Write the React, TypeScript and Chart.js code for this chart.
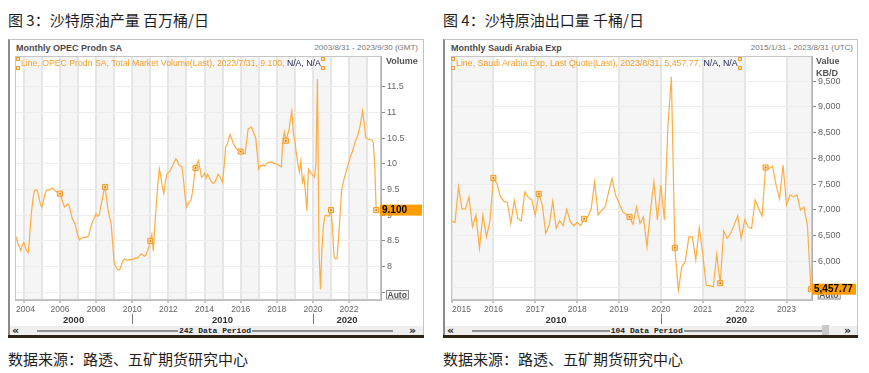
import React, { useEffect, useRef } from "react";
import { Chart, registerables } from "chart.js";

Chart.register(...registerables);

const SANS = '"Liberation Sans", Arial, sans-serif';
const CJK = '"Noto Sans CJK SC", "Noto Sans", sans-serif';
const MONO = '"Liberation Mono", "DejaVu Sans Mono", monospace';

// ---------- Figure 3: Saudi crude production (million b/d), monthly from 2003/8 ----------
const productionStart = [2003, 8];
const productionValues = [
  8.58, 8.45, 8.38, 8.31, 8.42, 8.47, 8.38, 8.30, 8.27, 8.65,
  9.03, 9.30, 9.48, 9.50, 9.48, 9.35, 9.22, 9.16, 9.28, 9.40,
  9.48, 9.50, 9.49, 9.52, 9.53, 9.50, 9.47, 9.45, 9.43, 9.42,
  9.35, 9.24, 9.16, 9.18, 9.22, 9.20, 9.08, 8.95, 8.88, 8.83,
  8.70, 8.60, 8.52, 8.55, 8.57, 8.56, 8.58, 8.57, 8.60, 8.72,
  8.82, 8.90, 8.96, 9.03, 8.98, 9.00, 9.15, 9.30, 9.45, 9.55,
  9.32, 9.10, 8.95, 8.83, 8.45, 8.08, 8.00, 7.95, 7.93, 7.96,
  8.05, 8.12, 8.15, 8.14, 8.12, 8.14, 8.13, 8.15, 8.14, 8.17,
  8.16, 8.18, 8.22, 8.25, 8.23, 8.20, 8.22, 8.30, 8.38, 8.50,
  8.63, 8.30, 8.80, 9.22, 9.60, 9.90, 9.75, 9.55, 9.42, 9.65,
  9.80, 9.83, 9.86, 9.92, 9.98, 10.05, 10.10, 10.05, 9.98, 9.96,
  9.94, 9.70, 9.40, 9.16, 9.22, 9.26, 9.29, 9.45, 9.70, 9.92,
  10.00, 10.07, 9.90, 9.74, 9.76, 9.82, 9.72, 9.80, 9.75, 9.68,
  9.64, 9.62, 9.66, 9.72, 9.80, 9.76, 9.70, 9.64, 9.95, 10.33,
  10.38, 10.48, 10.57, 10.50, 10.40, 10.35, 10.30, 10.28, 10.25, 10.24,
  10.22, 10.20, 10.20, 10.45, 10.68, 10.70, 10.72, 10.65, 10.58, 10.50,
  10.20, 9.90, 9.95, 9.97, 9.98, 9.96, 10.00, 10.02, 10.03, 10.04,
  10.03, 10.01, 10.00, 10.00, 9.98, 9.96, 9.94, 10.45, 10.62, 10.45,
  10.55, 10.65, 10.85, 11.03, 10.60, 10.45, 10.20, 10.00, 9.84, 10.06,
  9.64, 9.75, 9.45, 9.09, 9.90, 9.85, 9.80, 9.78, 9.74, 10.00,
  11.65, 8.35, 7.56, 8.35, 8.80, 8.99, 9.00, 8.98, 9.00, 9.10,
  8.75, 8.18, 8.15, 8.16, 8.55, 9.00, 9.48, 9.62, 9.74, 9.84,
  9.95, 10.05, 10.15, 10.22, 10.32, 10.42, 10.50, 10.58, 10.70, 10.85,
  11.03, 10.80, 10.52, 10.49, 10.48, 10.47, 10.47, 10.43, 10.00, 9.10,
];
const productionYTicks = [7.5, 8, 8.5, 9, 9.5, 10, 10.5, 11, 11.5];
const productionGridYears = [2004, 2005, 2006, 2007, 2008, 2009, 2010, 2011, 2012, 2013, 2014, 2015, 2016, 2017, 2018, 2019, 2020, 2021, 2022, 2023];
const productionLabelYears = [2004, 2006, 2008, 2010, 2012, 2014, 2016, 2018, 2020, 2022];
const productionDecades = [2000, 2010, 2020];

// ---------- Figure 4: Saudi crude exports (kb/d), monthly from 2015/1 ----------
const exportStart = [2015, 1];
const exportValues = [
  6785, 6756, 7444, 7017, 7017, 7250, 6669, 6901, 6252, 6901,
  6475, 6775, 7618, 7511, 7260, 7163, 7143, 6737, 7182, 6833,
  6785, 7347, 7240, 7192, 6901, 7308, 7095, 6543, 6707, 7163,
  6640, 6785, 6690, 7008, 6775, 6690, 6756, 6690, 6824, 6862,
  7008, 7540, 6901, 6988, 7056, 7337, 7608, 7289, 7134, 6969,
  6911, 6862, 6717, 7056, 6737, 6862, 6281, 6969, 7540, 6804,
  7482, 6804, 8616, 9584, 6262, 5439, 5894, 6000, 6475, 6475,
  6029, 6649, 6126, 5535, 5526, 5506, 6136, 5574, 6591, 6446,
  6543, 6707, 6882, 6446, 6804, 6669, 6640, 7192, 7027, 6882,
  7821, 7802, 7841, 7482, 7211, 7870, 7095, 7289, 7250, 7289,
  6998, 7056, 6678, 5457.77,
];
const exportYTicks = [5500, 6000, 6500, 7000, 7500, 8000, 8500, 9000, 9500];
const exportGridYears = [2015, 2016, 2017, 2018, 2019, 2020, 2021, 2022, 2023];
const exportLabelYears = [2015, 2016, 2017, 2018, 2019, 2020, 2021, 2022, 2023];
const exportDecades = [2010, 2020];

type PanelCfg = {
  ox: number;
  frameW: number;
  title: string;
  header: string;
  range: string;
  legend: string;
  legendSize: number;
  axisTitle: string[];
  axisTitleX: number;
  values: number[];
  start: number[];
  yMin: number;
  yMax: number;
  yTicks: number[];
  yFmt: (v: number) => string;
  xMin: number;
  xMax: number;
  gridYears: number[];
  labelYears: number[];
  shadeParity: number;
  decades: number[];
  markerEvery: number;
  valueText: string;
  valueDx: number;
  valueW: number;
  autoDx: number;
  periodText: string;
  lineLeft: number;
  lineW: number;
  thumb: boolean;
  canvasLeft: number;
  canvasWidth: number;
  padLeft: number;
  yAxisWidth: number;
};

const productionPanel: PanelCfg = {
  ox: 0,
  frameW: 416,
  title: "图 3：沙特原油产量 百万桶/日",
  header: "Monthly OPEC Prodn SA",
  range: "2003/8/31 - 2023/9/30 (GMT)",
  legend: "Line, OPEC Prodn SA, Total Market Volume(Last), 2023/7/31, 9.100, ",
  legendSize: 8.7,
  axisTitle: ["Volume"],
  axisTitleX: 386,
  values: productionValues,
  start: productionStart,
  yMin: 7.35,
  yMax: 12.1,
  yTicks: productionYTicks,
  yFmt: (v) => (v === 7.5 ? "" : String(v)),
  xMin: -0.86,
  xMax: 242.2,
  gridYears: productionGridYears,
  labelYears: productionLabelYears,
  shadeParity: 0,
  decades: productionDecades,
  markerEvery: 30,
  valueText: "9.100",
  valueDx: -1,
  valueW: 42,
  autoDx: 5,
  periodText: "242 Data Period",
  lineLeft: 37,
  lineW: 356,
  thumb: false,
  canvasLeft: 8,
  canvasWidth: 416,
  padLeft: 7,
  yAxisWidth: 43,
};

const exportPanel: PanelCfg = {
  ox: 435,
  frameW: 415,
  title: "图 4：沙特原油出口量 千桶/日",
  header: "Monthly Saudi Arabia Exp",
  range: "2015/1/31 - 2023/8/31 (UTC)",
  legend: "Line, Saudi Arabia Exp, Last Quote(Last), 2023/8/31, 5,457.77, ",
  legendSize: 8.8,
  axisTitle: ["Value", "KB/D"],
  axisTitleX: 381,
  values: exportValues,
  start: exportStart,
  yMin: 5248,
  yMax: 9986,
  yTicks: exportYTicks,
  yFmt: (v) => v.toLocaleString("en-US"),
  xMin: -0.15,
  xMax: 103.3,
  gridYears: exportGridYears,
  labelYears: exportLabelYears,
  shadeParity: 1,
  decades: exportDecades,
  markerEvery: 13,
  valueText: "5,457.77",
  valueDx: 0,
  valueW: 44,
  autoDx: 5.7,
  periodText: "104 Data Period",
  lineLeft: 36.7,
  lineW: 350,
  thumb: true,
  canvasLeft: 443,
  canvasWidth: 415,
  padLeft: 8,
  yAxisWidth: 46,
};

const PLOT_TOP = 56;
const PAD_TOP = 10;
const X_AXIS_H = 25;
const CANVAS_H = 244 + PAD_TOP + X_AXIS_H;

function Panel({ cfg }: { cfg: PanelCfg }) {
  const ref = useRef<HTMLCanvasElement | null>(null);

  useEffect(() => {
    const c = cfg;
    const jan = (y: number) => (y - c.start[0]) * 12 + (1 - c.start[1]);
    const n = c.values.length;
    const isMarker = (i: number) => (n - 1 - i) % c.markerEvery === 0;
    const labelled = new Set(c.labelYears.map(jan));

    const plugin = {
      id: "eikonChrome",
      beforeDraw(chart: any) {
        const { ctx, chartArea: a } = chart;
        const x = chart.scales.x;
        ctx.save();
        ctx.fillStyle = "#ffffff";
        ctx.fillRect(a.left, a.top, a.right - a.left, a.bottom - a.top);
        ctx.fillStyle = "#f5f5f5";
        const lastYear = c.gridYears[c.gridYears.length - 1];
        for (let y = c.start[0]; y <= lastYear; y++) {
          if (((y % 2) + 2) % 2 !== c.shadeParity) continue;
          const x0 = Math.max(a.left, x.getPixelForValue(jan(y)));
          const x1 = Math.min(a.right, x.getPixelForValue(jan(y + 1)));
          if (x1 > x0) ctx.fillRect(x0, a.top, x1 - x0, a.bottom - a.top);
        }
        ctx.restore();
      },
      afterDatasetsDraw(chart: any) {
        const { ctx } = chart;
        const meta = chart.getDatasetMeta(0);
        ctx.save();
        ctx.fillStyle = "#d27c00";
        meta.data.forEach((pt: any, i: number) => {
          if (isMarker(i)) ctx.fillRect(pt.x - 0.8, pt.y - 0.8, 1.6, 1.6);
        });
        ctx.restore();
      },
      afterDraw(chart: any) {
        const { ctx, chartArea: a } = chart;
        const x = chart.scales.x;
        const ys = chart.scales.y;
        ctx.save();
        ctx.strokeStyle = "#c6c6c6";
        ctx.lineWidth = 1;
        ctx.strokeRect(a.left + 0.5, a.top + 0.5, a.right - a.left - 1, a.bottom - a.top - 1);
        ctx.font = `8.5px ${SANS}`;
        ctx.fillStyle = "#666666";
        ctx.textAlign = "left";
        ctx.textBaseline = "alphabetic";
        for (const y of c.labelYears) {
          const px = x.getPixelForValue(jan(y));
          const s = String(y);
          const w = ctx.measureText(s).width;
          let tx = px - w / 2;
          if (tx < a.left + 1) tx = a.left + 1;
          if (tx + w > a.right) tx = a.right - w;
          ctx.fillText(s, tx, a.bottom + 12);
        }
        ctx.font = `bold 9.5px ${SANS}`;
        ctx.fillStyle = "#333333";
        ctx.strokeStyle = "#777777";
        for (const d of c.decades) {
          const p0 = x.getPixelForValue(jan(d));
          const p1 = x.getPixelForValue(jan(d + 10));
          const l = Math.max(p0, a.left);
          const r = Math.min(p1, a.right);
          if (r - l > 20) {
            const s = String(d);
            const w = ctx.measureText(s).width;
            ctx.fillText(s, (l + r) / 2 - w / 2, a.bottom + 22.5);
          }
          if (p0 > a.left + 2 && p0 < a.right - 2) {
            const sx = Math.round(p0) + 0.5;
            ctx.beginPath();
            ctx.moveTo(sx, a.bottom + 14);
            ctx.lineTo(sx, a.bottom + 24);
            ctx.stroke();
          }
        }
        const ax = a.right + c.autoDx;
        const ay = a.bottom - 10;
        ctx.fillStyle = "#f5f5f5";
        ctx.fillRect(ax, ay, 23, 9.5);
        ctx.strokeStyle = "#8c8c8c";
        ctx.strokeRect(ax + 0.5, ay + 0.5, 22, 8.5);
        ctx.fillStyle = "#555555";
        ctx.font = `bold 8.5px ${SANS}`;
        ctx.fillText("Auto", ax + 1.5, ay + 8);
        const vy = ys.getPixelForValue(c.values[n - 1]);
        const bx = a.right + c.valueDx;
        ctx.fillStyle = "#ff9c00";
        ctx.fillRect(bx, vy - 5.5, c.valueW, 11);
        ctx.fillStyle = "#000000";
        ctx.font = `bold 10px ${SANS}`;
        ctx.textBaseline = "middle";
        ctx.fillText(c.valueText, bx + 2, vy + 0.5);
        ctx.restore();
      },
    };

    const chart = new Chart(ref.current as HTMLCanvasElement, {
      type: "line",
      data: {
        datasets: [
          {
            data: c.values.map((v, i) => ({ x: i, y: v })),
            borderColor: "#ffac40",
            borderWidth: 1.2,
            tension: 0,
            pointStyle: "rect",
            pointRadius: (ctx: any) => (isMarker(ctx.dataIndex) ? 3.6 : 0),
            pointBackgroundColor: "rgba(255,210,150,0.85)",
            pointBorderColor: "#f29a24",
            pointBorderWidth: 1,
          },
        ],
      },
      options: {
        responsive: false,
        animation: false,
        events: [],
        layout: { padding: { left: c.padLeft, right: 0, top: PAD_TOP, bottom: 0 } },
        plugins: { legend: { display: false }, tooltip: { enabled: false } },
        scales: {
          x: {
            type: "linear",
            min: c.xMin,
            max: c.xMax,
            afterBuildTicks: (s: any) => {
              s.ticks = c.gridYears.map((y) => ({ value: jan(y) }));
            },
            afterFit: (s: any) => {
              s.height = X_AXIS_H;
            },
            ticks: { display: false },
            grid: {
              color: "#e6e6e6",
              lineWidth: 2,
              drawTicks: true,
              tickLength: 3,
              tickWidth: 1,
              tickColor: (ctx: any) => (ctx.tick && labelled.has(ctx.tick.value) ? "#8a8a8a" : "rgba(0,0,0,0)"),
            },
            border: { display: true, color: "#bdbdbd", width: 1 },
          },
          y: {
            type: "linear",
            position: "right",
            min: c.yMin,
            max: c.yMax,
            afterBuildTicks: (s: any) => {
              s.ticks = c.yTicks.map((v) => ({ value: v }));
            },
            afterFit: (s: any) => {
              s.width = c.yAxisWidth;
            },
            ticks: {
              callback: (v: any) => c.yFmt(Number(v)),
              font: { family: "Liberation Sans", size: 9 },
              color: "#666666",
              padding: 2,
            },
            grid: { color: "#ededed", lineWidth: 1, tickLength: 4, tickColor: "#8a8a8a" },
            border: { display: true, color: "#b0b0b0", width: 1 },
          },
        },
      },
      plugins: [plugin],
    } as any);
    return () => chart.destroy();
  }, [cfg]);

  const ox = cfg.ox;
  const abs = (s: React.CSSProperties): React.CSSProperties => ({ position: "absolute", ...s });
  const square = (top: number): React.CSSProperties =>
    abs({ left: 0, top, width: 2, height: 2, border: "1px solid #f0a030", background: "#ffe2b8" });

  return (
    <>
      <div style={abs({ left: ox + 8, top: 12, fontFamily: CJK, fontSize: 15, lineHeight: "15px", color: "#1e1e1e", whiteSpace: "nowrap" })}>
        {cfg.title}
      </div>
      <div
        style={abs({
          left: ox + 8,
          top: 39,
          width: cfg.frameW,
          height: 296,
          boxSizing: "border-box",
          borderTop: "1px solid #c4c4c4",
          borderRight: "1px solid #c4c4c4",
          borderLeft: "2px solid #8a8a8a",
          background: "#ffffff",
        })}
      />
      <div style={abs({ left: ox + 16, top: 44, fontFamily: SANS, fontWeight: "bold", fontSize: 9, lineHeight: "9px", color: "#4a4a4a", whiteSpace: "nowrap" })}>
        {cfg.header}
      </div>
      <div style={abs({ left: ox + 218, width: 200, top: 44, textAlign: "right", fontFamily: SANS, fontSize: 8, lineHeight: "8px", color: "#777", whiteSpace: "nowrap" })}>
        {cfg.range}
      </div>
      <canvas
        ref={ref}
        width={cfg.canvasWidth}
        height={CANVAS_H}
        style={abs({ left: cfg.canvasLeft, top: PLOT_TOP - PAD_TOP, width: cfg.canvasWidth, height: CANVAS_H, zIndex: 1 })}
      />
      <div style={abs({ left: ox + 15.5, top: 56.5, zIndex: 2, display: "flex", alignItems: "flex-start", whiteSpace: "nowrap" })}>
        <div style={{ position: "relative", width: 4, height: 14 }}>
          <div style={square(0)} />
          <div style={square(9.5)} />
        </div>
        <span style={{ marginLeft: 1.5, marginTop: 2.5, fontFamily: SANS, fontSize: cfg.legendSize, lineHeight: "9px", color: "#f59f2e" }}>
          {cfg.legend}
          <span style={{ color: "#26264f" }}>N/A, N/A</span>
        </span>
        <div style={{ position: "relative", width: 4, height: 14, marginLeft: 0.5 }}>
          <div style={square(0)} />
          <div style={square(9.5)} />
        </div>
      </div>
      {cfg.axisTitle.map((t, i) => (
        <div
          key={t}
          style={abs({ left: ox + cfg.axisTitleX, top: 57 + i * 12, zIndex: 2, fontFamily: SANS, fontWeight: "bold", fontSize: 9, lineHeight: "9px", color: "#555", whiteSpace: "nowrap" })}
        >
          {t}
        </div>
      ))}
      <div style={abs({ left: ox + 10, top: 326, width: cfg.frameW - 3, height: 9, background: "#efefef" })} />
      <div style={abs({ left: ox + 12, top: 324.5, fontFamily: '"DejaVu Sans", sans-serif', fontWeight: "bold", fontSize: 11, lineHeight: "11px", color: "#222" })}>«</div>
      <div style={abs({ left: ox + 409, top: 324.5, fontFamily: '"DejaVu Sans", sans-serif', fontWeight: "bold", fontSize: 11, lineHeight: "11px", color: "#222" })}>»</div>
      <div style={abs({ left: ox + cfg.lineLeft, top: 330, width: cfg.lineW, height: 2, background: "#8f8f8f" })} />
      <div
        style={abs({
          left: ox + cfg.lineLeft + cfg.lineW / 2,
          top: 326,
          transform: "translateX(-50%)",
          fontFamily: MONO,
          fontWeight: "bold",
          fontSize: 8,
          lineHeight: "9px",
          color: "#222",
          background: "#efefef",
          padding: "0 1px",
          whiteSpace: "nowrap",
        })}
      >
        {cfg.periodText}
      </div>
      {cfg.thumb && <div style={abs({ left: ox + 386.7, top: 325, width: 7.3, height: 11, background: "#c9c9c9" })} />}
      <div style={abs({ left: ox + 8, top: 335, width: cfg.frameW, height: 3, background: "#2e2418" })} />
      <div style={abs({ left: ox + 8, top: 351, fontFamily: CJK, fontSize: 15, lineHeight: "15px", color: "#1e1e1e", whiteSpace: "nowrap" })}>
        数据来源：路透、五矿期货研究中心
      </div>
    </>
  );
}

export default function App() {
  return (
    <div style={{ position: "absolute", left: 0, top: 0, width: 869, height: 373, background: "#ffffff", overflow: "hidden" }}>
      <Panel cfg={productionPanel} />
      <Panel cfg={exportPanel} />
    </div>
  );
}
